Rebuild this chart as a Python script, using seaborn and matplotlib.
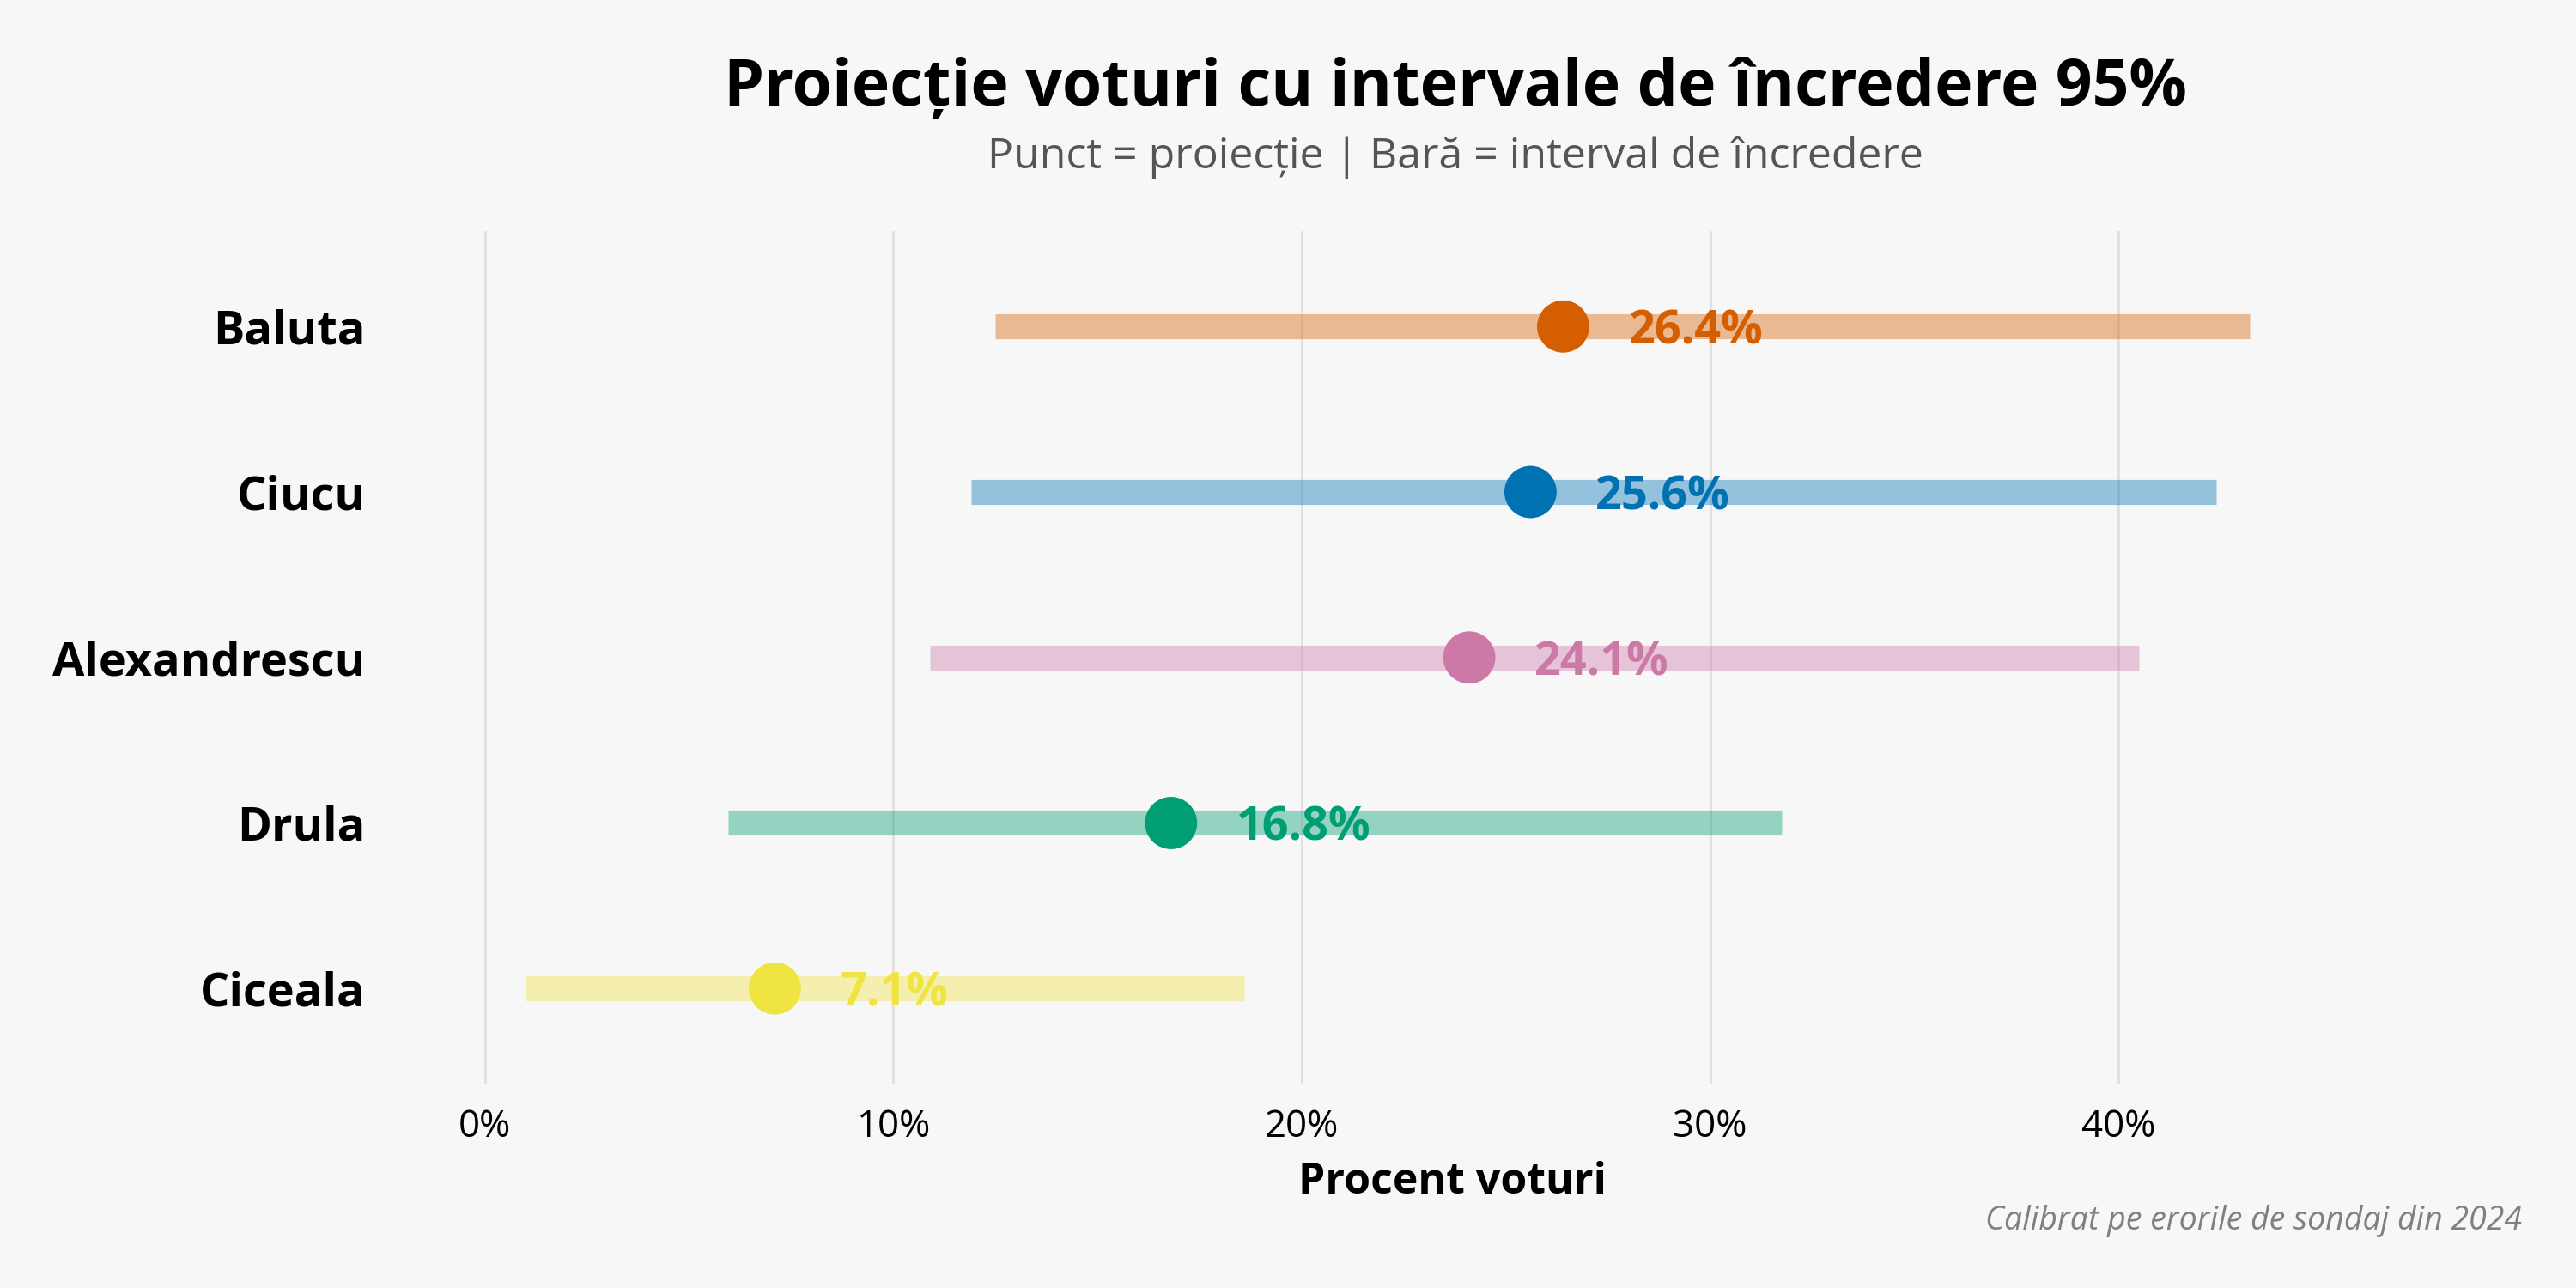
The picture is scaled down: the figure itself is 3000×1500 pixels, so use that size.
import numpy as np
import pandas as pd
import matplotlib.pyplot as plt
import seaborn as sns

# date
candidati = ['Baluta', 'Ciucu', 'Alexandrescu', 'Drula', 'Ciceala']
proiectie = [26.4, 25.6, 24.1, 16.8, 7.1]
ci_jos = [12.5, 11.9, 10.9, 5.95, 1.0]
ci_sus = [43.2, 42.4, 40.5, 31.75, 18.6]
culori = ['#D55E00', '#0072B2', '#CC79A7', '#009E73', '#F0E442']
x_ticks = [0, 10, 20, 30, 40]

bg = '#F7F7F7'
sns.set_theme(style='whitegrid')
plt.rcParams['font.family'] = ['Open Sans', 'DejaVu Sans']
plt.rcParams['text.color'] = 'black'
plt.rcParams['axes.labelcolor'] = 'black'
plt.rcParams['xtick.color'] = 'black'
plt.rcParams['ytick.color'] = 'black'

df = pd.DataFrame({'candidat': candidati, 'proiectie': proiectie,
                   'jos': ci_jos, 'sus': ci_sus})
df['pos'] = np.arange(len(df))[::-1]

fig = plt.figure(figsize=(15, 7.5), dpi=200, facecolor=bg)
ax = fig.add_axes([0.147, 0.158, 0.834, 0.663])
ax.set_facecolor(bg)

for i, row in df.iterrows():
    ax.hlines(row['pos'], row['jos'], row['sus'], color=culori[i], alpha=0.4,
              linewidth=10.5, zorder=2)

sns.scatterplot(data=df, x='proiectie', y='pos', hue='candidat', palette=culori,
                s=480, edgecolor='none', legend=False, ax=ax, zorder=3)

for i, row in df.iterrows():
    ax.text(row['proiectie'] + 1.6, row['pos'], f"{row['proiectie']:.1f}%",
            color=culori[i], fontsize=19.5, fontweight='bold',
            va='center_baseline', ha='left', zorder=4)

ax.set_xlim(-2.6, 50)
ax.set_ylim(-0.58, 4.58)
ax.set_xticks(x_ticks)
ax.set_xticklabels([f'{t}%' for t in x_ticks], fontsize=15.8)
ax.set_yticks(df['pos'])
ax.set_yticklabels(df['candidat'], fontsize=19.5, fontweight='bold')
ax.tick_params(axis='y', pad=5.5, length=0)
ax.tick_params(axis='x', pad=10, length=0)
ax.grid(axis='y', visible=False)
ax.grid(axis='x', color='#E0E0E0', linewidth=1)
for s in ax.spines.values():
    s.set_visible(False)
ax.set_xlabel('Procent voturi', fontsize=18, fontweight='bold', labelpad=6)
ax.set_ylabel('')

fig.text(0.565, 0.931, 'Proiecție voturi cu intervale de încredere 95%',
         fontsize=27, fontweight='bold', ha='center', va='center')
fig.text(0.565, 0.878, 'Punct = proiecție | Bară = interval de încredere',
         fontsize=18, color='#555555', ha='center', va='center')
fig.text(0.979, 0.052, 'Calibrat pe erorile de sondaj din 2024',
         fontsize=13.5, color='#808080', style='italic', ha='right', va='center')

plt.savefig('out.png', facecolor=bg)
